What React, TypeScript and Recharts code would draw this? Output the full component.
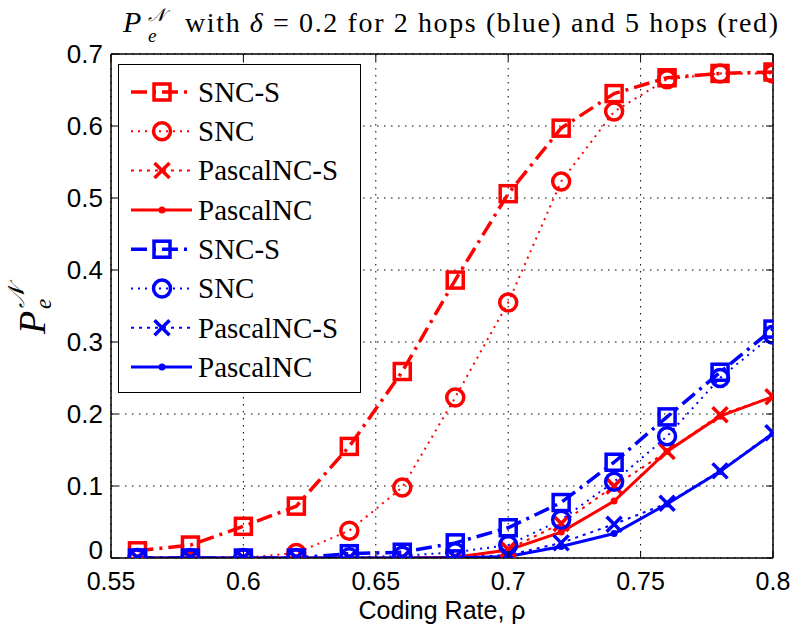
import React from "react";
import {
  LineChart, Line, XAxis, YAxis, CartesianGrid, ReferenceLine,
} from "recharts";

// ─── Data ─────────────────────────────────────────────────────────────────────
const rates = [0.56, 0.58, 0.6, 0.62, 0.64, 0.66, 0.68, 0.7, 0.72, 0.74, 0.76, 0.78, 0.8];

// 5 hops (red)
const redSncS = [0.010, 0.018, 0.044, 0.072, 0.155, 0.259, 0.386, 0.506, 0.597, 0.645, 0.667, 0.673, 0.675];
const redSnc = [0, 0, 0, 0.007, 0.038, 0.098, 0.223, 0.355, 0.523, 0.620, 0.665, 0.673, 0.673];
const redPascalS = [0, 0, 0, 0, 0, 0, 0.001, 0.012, 0.048, 0.100, 0.148, 0.199, 0.224];
const redPascal = [0, 0, 0, 0, 0, 0, 0.001, 0.011, 0.036, 0.079, 0.148, 0.197, 0.224];

// 2 hops (blue)
const blueSncS = [0, 0, 0, 0, 0.006, 0.008, 0.021, 0.042, 0.077, 0.133, 0.196, 0.258, 0.318];
const blueSnc = [0, 0, 0, 0, 0.001, 0.003, 0.008, 0.018, 0.053, 0.106, 0.169, 0.250, 0.310];
const bluePascalS = [0, 0, 0, 0, 0, 0, 0.001, 0.004, 0.021, 0.047, 0.076, 0.121, 0.174];
const bluePascal = [0, 0, 0, 0, 0, 0, 0, 0.002, 0.016, 0.034, 0.075, 0.120, 0.173];

const xTicks = [0.55, 0.6, 0.65, 0.7, 0.75, 0.8];
const yTicks = [0, 0.1, 0.2, 0.3, 0.4, 0.5, 0.6, 0.7];

const data = rates.map((r, i) => ({
  rate: r,
  rSncS: redSncS[i], rSnc: redSnc[i], rPascalS: redPascalS[i], rPascal: redPascal[i],
  bSncS: blueSncS[i], bSnc: blueSnc[i], bPascalS: bluePascalS[i], bPascal: bluePascal[i],
}));

// ─── Layout / style ───────────────────────────────────────────────────────────
const W = 797;
const H = 628;
const PLOT_L = 111;
const PLOT_R = 773;
const PLOT_T = 54;
const PLOT_B = 558;
const RED = "#ff0000";
const BLUE = "#0000ff";
const SANS = "'Liberation Sans', Arial, sans-serif";
const SERIF = "'Liberation Serif', 'Times New Roman', serif";

type Marker = "square" | "circle" | "x" | "dot";

const STYLES: Record<string, { dash?: string; width: number; marker: Marker }> = {
  sncS: { dash: "16 6 3 6", width: 3.5, marker: "square" },
  snc: { dash: "2 5", width: 2, marker: "circle" },
  pascalS: { dash: "3 5", width: 2, marker: "x" },
  pascal: { width: 3, marker: "dot" },
};

const SERIES = [
  { key: "rSncS", name: "SNC-S", color: RED, style: "sncS" },
  { key: "rSnc", name: "SNC", color: RED, style: "snc" },
  { key: "rPascalS", name: "PascalNC-S", color: RED, style: "pascalS" },
  { key: "rPascal", name: "PascalNC", color: RED, style: "pascal" },
  { key: "bSncS", name: "SNC-S", color: BLUE, style: "sncS" },
  { key: "bSnc", name: "SNC", color: BLUE, style: "snc" },
  { key: "bPascalS", name: "PascalNC-S", color: BLUE, style: "pascalS" },
  { key: "bPascal", name: "PascalNC", color: BLUE, style: "pascal" },
];

function markerShape(kind: Marker, cx: number, cy: number, color: string, key?: string) {
  switch (kind) {
    case "square":
      return <rect key={key} x={cx - 8} y={cy - 8} width={16} height={16} fill="none" stroke={color} strokeWidth={3.5} />;
    case "circle":
      return <circle key={key} cx={cx} cy={cy} r={8.5} fill="none" stroke={color} strokeWidth={3.5} />;
    case "x":
      return (
        <path key={key} d={`M${cx - 7.5} ${cy - 7.5}L${cx + 7.5} ${cy + 7.5}M${cx + 7.5} ${cy - 7.5}L${cx - 7.5} ${cy + 7.5}`}
          stroke={color} strokeWidth={3.5} fill="none" />
      );
    default:
      return <circle key={key} cx={cx} cy={cy} r={3.5} fill={color} stroke="none" />;
  }
}

const makeDot = (kind: Marker, color: string, id: string) =>
  // eslint-disable-next-line @typescript-eslint/no-explicit-any
  (props: any) => {
    const { cx, cy, index } = props;
    if (cx == null || cy == null) return <g key={`${id}-${index}`} />;
    return markerShape(kind, cx, cy, color, `${id}-${index}`);
  };

// eslint-disable-next-line @typescript-eslint/no-explicit-any
const XTick = (props: any) => {
  const { x, y, payload } = props;
  return (
    <g>
      <line x1={x} x2={x} y1={PLOT_B} y2={PLOT_B - 7} stroke="#000" strokeWidth={1} />
      <line x1={x} x2={x} y1={PLOT_T} y2={PLOT_T + 7} stroke="#000" strokeWidth={1} />
      <text x={x} y={y + 32} textAnchor="middle" fontFamily={SANS} fontSize={25} fill="#000">
        {String(payload.value)}
      </text>
    </g>
  );
};

// eslint-disable-next-line @typescript-eslint/no-explicit-any
const YTick = (props: any) => {
  const { y, payload } = props;
  // matlab nudges the bottom "0" up off the x labels
  const shift = payload.value === 0 ? -8 : 0;
  return (
    <g>
      <line x1={PLOT_L} x2={PLOT_L + 7} y1={y} y2={y} stroke="#000" strokeWidth={1} />
      <line x1={PLOT_R} x2={PLOT_R - 7} y1={y} y2={y} stroke="#000" strokeWidth={1} />
      <text x={PLOT_L - 8} y={y + shift} dy="0.36em" textAnchor="end" fontFamily={SANS} fontSize={26} fill="#000">
        {String(payload.value)}
      </text>
    </g>
  );
};

const XLabel = () => (
  <text x={442} y={619} textAnchor="middle" fontFamily={SANS} fontSize={25} fill="#000">
    Coding Rate, ρ
  </text>
);

const YLabel = () => (
  <g transform="translate(45, 334) rotate(-90)">
    <text x={0} y={0} fontFamily={SERIF} fontStyle="italic" fontSize={38} fill="#000">P</text>
    <text x={26} y={-21} fontFamily={SERIF} fontStyle="italic" fontSize={23} fill="#000">𝒩</text>
    <text x={25} y={6} fontFamily={SERIF} fontStyle="italic" fontSize={23} fill="#000">e</text>
  </g>
);

// ─── Legend ───────────────────────────────────────────────────────────────────
function LegendBox() {
  const rowH = 39.3;
  return (
    <div style={{
      position: "absolute", left: 118, top: 64, width: 243, height: 329,
      border: "1.5px solid #000", background: "#fff", boxSizing: "border-box",
    }}>
      <svg width={240} height={326} style={{ display: "block" }}>
        {SERIES.map((s, i) => {
          const st = STYLES[s.style];
          const cy = 27 + i * rowH;
          return (
            <g key={s.key}>
              <line x1={12} x2={73} y1={cy} y2={cy} stroke={s.color} strokeWidth={st.width}
                strokeDasharray={st.dash} />
              {markerShape(st.marker, 43, cy, s.color)}
              <text x={79} y={cy} dy="0.34em" fontFamily={SERIF} fontSize={29} fill="#000">{s.name}</text>
            </g>
          );
        })}
      </svg>
    </div>
  );
}

function Title() {
  return (
    <svg width={W} height={50} style={{ position: "absolute", left: 0, top: 0 }}>
      <text x={123} y={32} fontFamily={SERIF} fontStyle="italic" fontSize={30} fill="#000">P</text>
      <text x={148} y={21} fontFamily={SERIF} fontStyle="italic" fontSize={18} fill="#000">𝒩</text>
      <text x={148} y={42} fontFamily={SERIF} fontStyle="italic" fontSize={19} fill="#000">e</text>
      <text x={185} y={32} fontFamily={SERIF} fontSize={28} fill="#000"
        textLength={593} lengthAdjust="spacing">
        with <tspan fontStyle="italic">δ</tspan> = 0.2 for 2 hops (blue) and 5 hops (red)
      </text>
    </svg>
  );
}

export default function App() {
  return (
    <div style={{ position: "absolute", left: 0, top: 0, width: W, height: H, background: "#fff" }}>
      <LineChart width={W} height={H} data={data}
        margin={{ top: PLOT_T, right: W - PLOT_R, left: 0, bottom: 0 }}>
        <CartesianGrid stroke="#000" strokeDasharray="1.5 5.5" strokeWidth={1}
          verticalValues={xTicks} horizontalValues={yTicks} />
        <XAxis dataKey="rate" type="number" domain={[0.55, 0.8]} ticks={xTicks} interval={0}
          height={H - PLOT_B} tickSize={0} tickLine={false} tickMargin={0}
          axisLine={{ stroke: "#000", strokeWidth: 1.5 }} tick={<XTick />} label={<XLabel />}
          allowDataOverflow />
        <YAxis type="number" domain={[0, 0.7]} ticks={yTicks} interval={0} width={PLOT_L}
          tickSize={0} tickLine={false} tickMargin={0}
          axisLine={{ stroke: "#000", strokeWidth: 1.5 }} tick={<YTick />} label={<YLabel />}
          allowDataOverflow />
        <ReferenceLine x={0.8} stroke="#000" strokeWidth={1.5} />
        <ReferenceLine y={0.7} stroke="#000" strokeWidth={1.5} />
        {SERIES.map((s) => {
          const st = STYLES[s.style];
          return (
            <Line key={s.key} type="linear" dataKey={s.key} name={s.name}
              stroke={s.color} strokeWidth={st.width} strokeDasharray={st.dash}
              dot={makeDot(st.marker, s.color, s.key)} activeDot={false}
              isAnimationActive={false} />
          );
        })}
      </LineChart>
      <LegendBox />
      <Title />
    </div>
  );
}
